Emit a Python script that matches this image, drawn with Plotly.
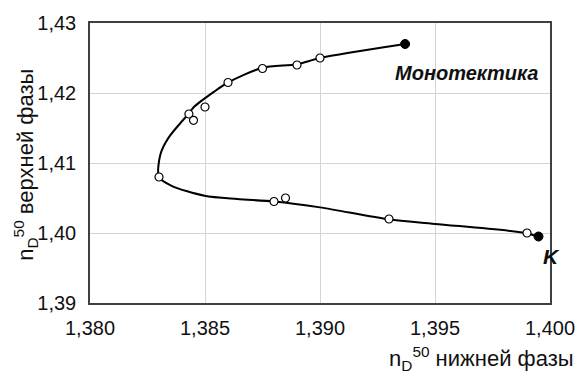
import plotly.graph_objects as go

# measured points (open circles)
pts_x = [1.3843, 1.3845, 1.3850, 1.3860, 1.3875, 1.3890, 1.3900, 1.3830, 1.3880, 1.3885, 1.3930, 1.3990]
pts_y = [1.4170, 1.4161, 1.4180, 1.4215, 1.4235, 1.4240, 1.4250, 1.4080, 1.4045, 1.4050, 1.4020, 1.4000]

# end points (filled)
end_x = [1.3937, 1.3995]
end_y = [1.4270, 1.3995]

# smoothed binodal curve
curve_x = [1.3937, 1.3900, 1.3890, 1.3875, 1.3860, 1.3854, 1.38455, 1.3843, 1.38341, 1.38306, 1.3830,
           1.38355, 1.38498, 1.3864, 1.3880, 1.3900, 1.3930, 1.3950, 1.3990, 1.3995]
curve_y = [1.4270, 1.4250, 1.4241, 1.4236, 1.4215, 1.4202, 1.4181, 1.4171, 1.41359, 1.41123, 1.4080,
           1.40674, 1.40532, 1.40485, 1.4045, 1.40366, 1.40195, 1.4013, 1.39997, 1.3994]

x_ticks = [1.380, 1.385, 1.390, 1.395, 1.400]
y_ticks = [1.39, 1.40, 1.41, 1.42, 1.43]

fig = go.Figure()
fig.add_trace(go.Scatter(x=curve_x, y=curve_y, mode="lines",
                         line=dict(color="black", width=2, shape="spline", smoothing=0.8),
                         hoverinfo="skip", showlegend=False))
fig.add_trace(go.Scatter(x=pts_x, y=pts_y, mode="markers",
                         marker=dict(symbol="circle", size=8, color="white",
                                     line=dict(color="black", width=1.2)),
                         showlegend=False))
fig.add_trace(go.Scatter(x=end_x, y=end_y, mode="markers",
                         marker=dict(symbol="circle", size=9, color="black",
                                     line=dict(color="black", width=1)),
                         showlegend=False))

font_family = "Liberation Sans, Arial, sans-serif"

fig.add_annotation(x=1.39958, y=1.42285, xref="x", yref="y", text="<b><i>Монотектика</i></b>",
                   showarrow=False, xanchor="right", yanchor="middle",
                   font=dict(family=font_family, size=20, color="#111"))
fig.add_annotation(x=1.3995, y=1.39667, xref="x", yref="y", text="<b><i>K</i></b>",
                   showarrow=False, xanchor="center", yanchor="middle", xshift=13,
                   font=dict(family=font_family, size=21, color="#111"))

fig.add_annotation(x=(585 - 90) / 469, y=-(359 - 303) / 282, xref="paper", yref="paper",
                   text="n<sub>D</sub><sup>50</sup> нижней фазы",
                   showarrow=False, xanchor="right", yanchor="middle",
                   font=dict(family=font_family, size=22, color="#111"))
fig.add_annotation(x=(24 - 90) / 469, y=(303 - 163.5) / 282, xref="paper", yref="paper",
                   text="n<sub>D</sub><sup>50</sup> верхней фазы", textangle=-90,
                   showarrow=False, xanchor="center", yanchor="middle",
                   font=dict(family=font_family, size=22, color="#111"))

axis_common = dict(showgrid=True, gridcolor="#d4d4d4", gridwidth=1,
                   showline=True, linecolor="#404040", linewidth=1.5, mirror=True,
                   zeroline=False, ticks="",
                   tickfont=dict(family=font_family, size=20, color="#111"))

fig.update_xaxes(range=[1.380, 1.400], tickvals=x_ticks, tickformat=".3f",
                 ticklabelstandoff=6, **axis_common)
fig.update_yaxes(range=[1.39, 1.43], tickvals=y_ticks, tickformat=".2f",
                 ticklabelstandoff=8, **axis_common)

fig.update_layout(width=587, height=374, margin=dict(l=90, r=28, t=21, b=71),
                  plot_bgcolor="white", paper_bgcolor="white",
                  separators=", ", showlegend=False)

fig.write_html("out.html")
